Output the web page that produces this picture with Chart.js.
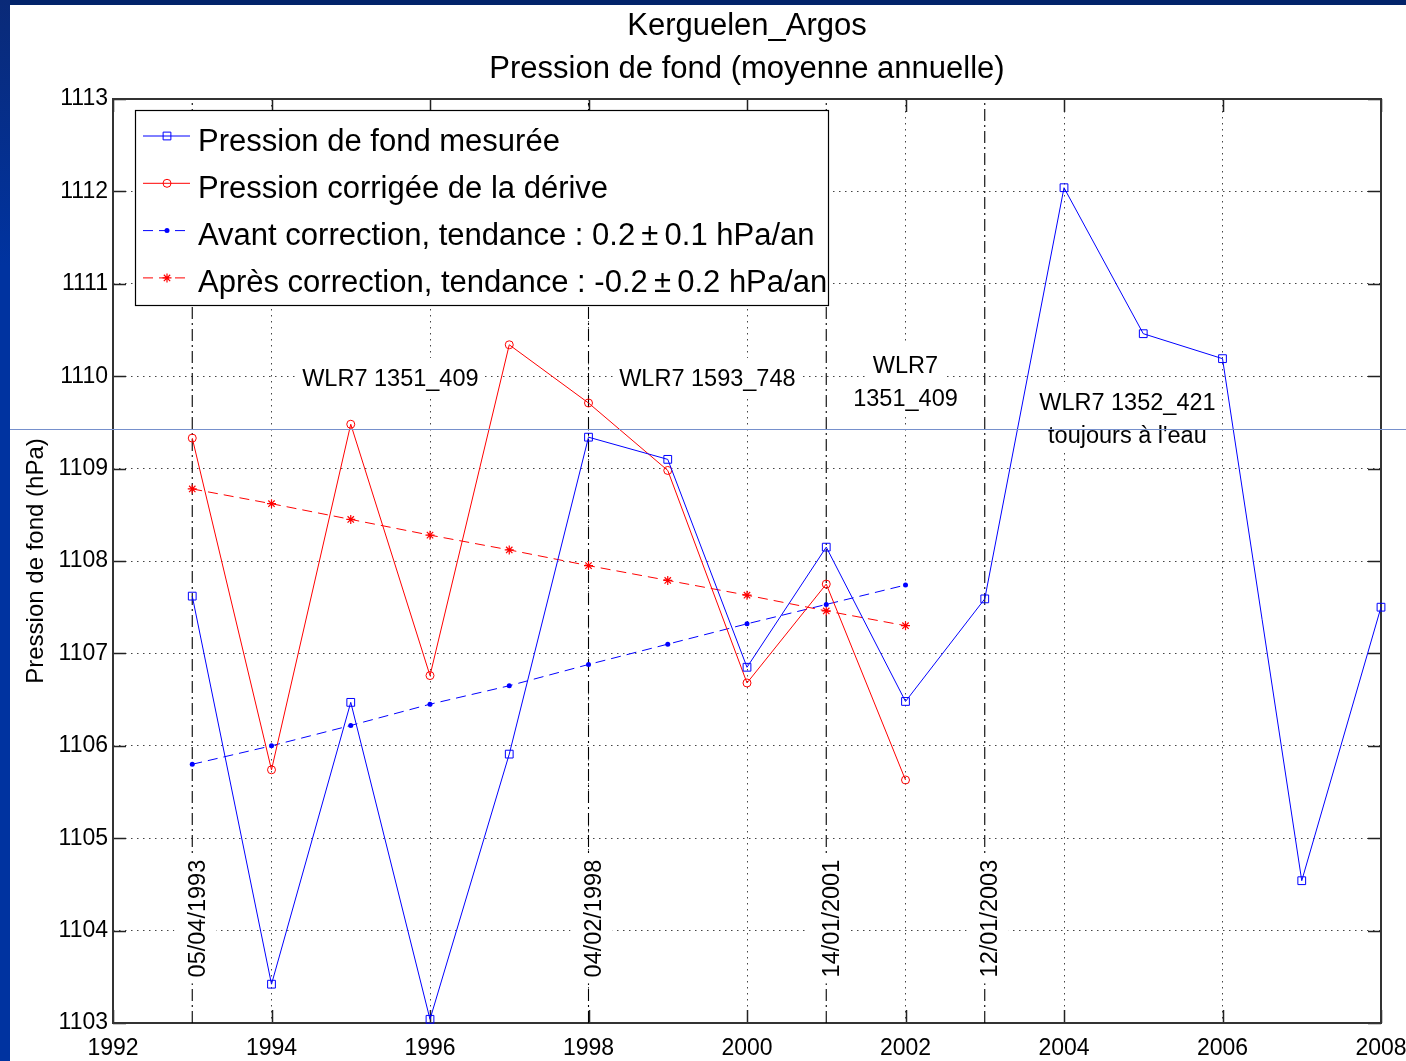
<!DOCTYPE html>
<html>
<head>
<meta charset="utf-8">
<title>Kerguelen_Argos</title>
<script src="https://cdn.jsdelivr.net/npm/chart.js@4.4.0/dist/chart.umd.min.js"></script>
<style>
  html, body { margin: 0; padding: 0; background: #fff; overflow: hidden; }
  #wrap { position: relative; width: 1406px; height: 1061px; }
  #wrap canvas { position: absolute; left: 0; top: 0; }
  .band-top { position: absolute; left: 0; top: 0; width: 1406px; height: 5px; background: #02236a; }
  .band-left { position: absolute; left: 0; top: 0; width: 10px; height: 1061px; background: linear-gradient(#0a2a78, #0033a0 25%, #0033a0); }
</style>
</head>
<body>
<div id="wrap">
  <canvas id="chart" width="1406" height="1061"></canvas>
  <div class="band-top"></div>
  <div class="band-left"></div>
</div>
<script>
const FONT = '"Liberation Sans", Arial, sans-serif';

// Data
const YEARS = [1993, 1994, 1995, 1996, 1997, 1998, 1999, 2000, 2001, 2002, 2003, 2004, 2005, 2006, 2007, 2008];
const MEASURED = [1107.62, 1103.42, 1106.47, 1103.04, 1105.91, 1109.34, 1109.10, 1106.85, 1108.15, 1106.48,
                  1107.59, 1112.04, 1110.46, 1110.19, 1104.54, 1107.50];

const CORR_YEARS = [1993, 1994, 1995, 1996, 1997, 1998, 1999, 2000, 2001, 2002];
const CORRECTED = [1109.33, 1105.74, 1109.48, 1106.76, 1110.34, 1109.71, 1108.98, 1106.68, 1107.75, 1105.63];
const TREND_BEFORE = [1105.80, 1106.00, 1106.22, 1106.45, 1106.65, 1106.88, 1107.10, 1107.32, 1107.53, 1107.74];
const TREND_AFTER = [1108.78, 1108.62, 1108.45, 1108.28, 1108.12, 1107.95, 1107.79, 1107.63, 1107.46, 1107.30];

const SERIES_LABELS = [
  'Pression de fond mesurée',
  'Pression corrigée de la dérive',
  'Avant correction, tendance : 0.2\u2009±\u20090.1 hPa/an',
  'Après correction, tendance : -0.2\u2009±\u20090.2 hPa/an'
];

const X_TICKS = [1992, 1994, 1996, 1998, 2000, 2002, 2004, 2006, 2008];
const Y_TICKS = [1103, 1104, 1105, 1106, 1107, 1108, 1109, 1110, 1111, 1112, 1113];

// instrument changes
const DEPLOY_YEARS = [1993, 1998, 2001, 2003];
const DEPLOY_DATES = ['05/04/1993', '04/02/1998', '14/01/2001', '12/01/2003'];
const DEPLOY_LABEL_Y = 1104.13;

const INSTRUMENT_LABELS = [['WLR7 1351_409'], ['WLR7 1593_748'], ['WLR7', '1351_409'], ['WLR7 1352_421', 'toujours à l\'eau']];
const INSTRUMENT_X = [1995.5, 1999.5, 2002.0, 2004.8];
const INSTRUMENT_Y = [1109.96, 1109.96, 1110.11, 1109.70];

const TITLE_LINES = ['Kerguelen_Argos', 'Pression de fond (moyenne annuelle)'];
const Y_TITLE = 'Pression de fond (hPa)';
const OVERLAY_Y = 1109.43; // thin line across the slide

const toPts = (xs, ys) => xs.map((x, i) => ({ x, y: ys[i] }));
const Y_MIN = Y_TICKS[0], Y_MAX = Y_TICKS[Y_TICKS.length - 1];

const deployLines = DEPLOY_YEARS.map(yr => ({
  data: [{ x: yr, y: Y_MIN }, { x: yr, y: Y_MAX }],
  borderColor: '#000', borderWidth: 1.1, borderDash: [12, 4, 2, 4],
  pointRadius: 0, order: 10
}));

// frame box + inward tick marks (matlab style)
const frame = {
  id: 'frame',
  beforeDatasetsDraw(chart) {
    const { ctx, chartArea: a, scales: { x, y } } = chart;
    ctx.save();
    ctx.strokeStyle = '#222';
    ctx.lineWidth = 1.5;
    ctx.beginPath();
    X_TICKS.forEach(v => {
      const px = Math.round(x.getPixelForValue(v)) + 0.5;
      ctx.moveTo(px, a.bottom); ctx.lineTo(px, a.bottom - 13);
      ctx.moveTo(px, a.top); ctx.lineTo(px, a.top + 13);
    });
    Y_TICKS.forEach(v => {
      const py = Math.round(y.getPixelForValue(v)) + 0.5;
      ctx.moveTo(a.left, py); ctx.lineTo(a.left + 13, py);
      ctx.moveTo(a.right, py); ctx.lineTo(a.right - 13, py);
    });
    ctx.stroke();
    ctx.lineWidth = 2;
    ctx.strokeStyle = '#333';
    ctx.strokeRect(a.left, a.top, a.right - a.left, a.bottom - a.top);
    ctx.restore();
  }
};

// text annotations with white background
const notes = {
  id: 'notes',
  afterDatasetsDraw(chart) {
    const { ctx, scales: { x, y } } = chart;
    ctx.save();
    ctx.font = '23.5px ' + FONT;
    ctx.textAlign = 'center';
    ctx.textBaseline = 'middle';

    DEPLOY_YEARS.forEach((yr, i) => {
      const px = x.getPixelForValue(yr) + 5;
      const py = y.getPixelForValue(DEPLOY_LABEL_Y);
      const w = ctx.measureText(DEPLOY_DATES[i]).width;
      ctx.save();
      ctx.translate(px, py);
      ctx.rotate(-Math.PI / 2);
      ctx.fillStyle = '#fff';
      ctx.fillRect(-w / 2 - 6, -23, w + 12, 42);
      ctx.fillStyle = '#000';
      ctx.fillText(DEPLOY_DATES[i], 0, 1);
      ctx.restore();
    });

    INSTRUMENT_LABELS.forEach((lines, i) => {
      const px = x.getPixelForValue(INSTRUMENT_X[i]);
      const py = y.getPixelForValue(INSTRUMENT_Y[i]);
      ctx.fillStyle = '#fff';
      lines.forEach((t, j) => {
        const w = ctx.measureText(t).width;
        ctx.fillRect(px - w / 2 - 5, py + j * 33 - 22, w + 10, 38);
      });
      ctx.fillStyle = '#000';
      lines.forEach((t, j) => ctx.fillText(t, px, py + j * 33));
    });
    ctx.restore();
  }
};

// legend box in the upper left of the plot
const legendBox = {
  id: 'legendBox',
  afterDatasetsDraw(chart) {
    const { ctx, chartArea: a } = chart;
    const items = chart.data.datasets.filter(d => d.label);
    const x0 = a.left + 22, y0 = a.top + 11, w = 693, h = 195;
    ctx.save();
    ctx.fillStyle = '#fff';
    ctx.fillRect(x0, y0, w, h);
    ctx.strokeStyle = '#000';
    ctx.lineWidth = 1.2;
    ctx.strokeRect(x0 + 0.5, y0 + 0.5, w, h);
    items.forEach((d, i) => {
      const ly = y0 + 26 + i * 47.3;
      ctx.setLineDash(d.borderDash || []);
      ctx.strokeStyle = d.borderColor;
      ctx.lineWidth = d.borderWidth;
      ctx.beginPath();
      ctx.moveTo(x0 + 8, ly);
      ctx.lineTo(x0 + 55, ly);
      ctx.stroke();
      ctx.setLineDash([]);
      ctx.fillStyle = d.pointBackgroundColor;
      ctx.strokeStyle = d.pointBorderColor;
      ctx.lineWidth = d.pointBorderWidth;
      Chart.helpers.drawPoint(ctx, {
        pointStyle: d.pointStyle, radius: d.pointRadius,
        borderWidth: d.pointBorderWidth, rotation: 0
      }, x0 + 32, ly);
      ctx.fillStyle = '#000';
      ctx.font = '31px ' + FONT;
      ctx.textAlign = 'left';
      ctx.textBaseline = 'middle';
      ctx.fillText(d.label, x0 + 63, ly + 6);
    });
    ctx.restore();
  }
};

const overlayLine = {
  id: 'overlayLine',
  afterDraw(chart) {
    const { ctx, scales: { y } } = chart;
    const py = Math.round(y.getPixelForValue(OVERLAY_Y)) + 0.5;
    ctx.save();
    ctx.strokeStyle = 'rgb(118,144,204)';
    ctx.lineWidth = 1;
    ctx.beginPath();
    ctx.moveTo(0, py);
    ctx.lineTo(chart.width, py);
    ctx.stroke();
    ctx.restore();
  }
};

new Chart(document.getElementById('chart'), {
  type: 'line',
  data: {
    datasets: [
      {
        label: SERIES_LABELS[0], data: toPts(YEARS, MEASURED),
        borderColor: '#0000ff', borderWidth: 1, clip: false,
        pointStyle: 'rect', pointRadius: 5.5, pointBorderWidth: 1,
        pointBorderColor: '#0000ff', pointBackgroundColor: 'rgba(0,0,0,0)'
      },
      {
        label: SERIES_LABELS[1], data: toPts(CORR_YEARS, CORRECTED),
        borderColor: '#ff0000', borderWidth: 1, clip: false,
        pointStyle: 'circle', pointRadius: 4, pointBorderWidth: 1,
        pointBorderColor: '#ff0000', pointBackgroundColor: 'rgba(0,0,0,0)'
      },
      {
        label: SERIES_LABELS[2], data: toPts(CORR_YEARS, TREND_BEFORE),
        borderColor: '#0000ff', borderWidth: 1, borderDash: [10, 6], clip: false,
        pointStyle: 'circle', pointRadius: 2.5, pointBorderWidth: 0,
        pointBorderColor: '#0000ff', pointBackgroundColor: '#0000ff'
      },
      {
        label: SERIES_LABELS[3], data: toPts(CORR_YEARS, TREND_AFTER),
        borderColor: '#ff0000', borderWidth: 1, borderDash: [10, 6], clip: false,
        pointStyle: 'star', pointRadius: 4.5, pointBorderWidth: 1.2,
        pointBorderColor: '#ff0000', pointBackgroundColor: '#ff0000'
      },
      ...deployLines
    ]
  },
  options: {
    responsive: false,
    animation: false,
    events: [],
    layout: { padding: { left: 10, right: 25, top: 0, bottom: 0 } },
    plugins: {
      legend: { display: false },
      tooltip: { enabled: false },
      title: {
        display: true, fullSize: false, text: TITLE_LINES, color: '#000',
        font: { family: FONT, size: 31, weight: 'normal', lineHeight: '43px' },
        padding: { top: 5, bottom: 8 }
      }
    },
    scales: {
      x: {
        type: 'linear', min: X_TICKS[0], max: X_TICKS[X_TICKS.length - 1],
        afterBuildTicks: s => { s.ticks = X_TICKS.map(value => ({ value })); },
        afterFit: s => { s.height = 38; s.paddingLeft = 0; s.paddingRight = 0; },
        ticks: { callback: v => String(v), color: '#000', padding: 12, maxRotation: 0, font: { family: FONT, size: 23 } },
        grid: { color: '#444', lineWidth: 1, drawTicks: false },
        border: { display: false, dash: [1.5, 4.5] }
      },
      y: {
        type: 'linear', min: Y_MIN, max: Y_MAX,
        afterBuildTicks: s => { s.ticks = Y_TICKS.map(value => ({ value })); },
        afterFit: s => { s.width = 103; },
        ticks: { callback: v => String(v), color: '#000', padding: 5, font: { family: FONT, size: 23 } },
        grid: { color: '#444', lineWidth: 1, drawTicks: false },
        border: { display: false, dash: [1.5, 4.5] },
        title: {
          display: true, text: Y_TITLE, color: '#000',
          font: { family: FONT, size: 24 }, padding: { top: 11.6, bottom: 0 }
        }
      }
    }
  },
  plugins: [frame, notes, legendBox, overlayLine]
});
</script>
</body>
</html>
